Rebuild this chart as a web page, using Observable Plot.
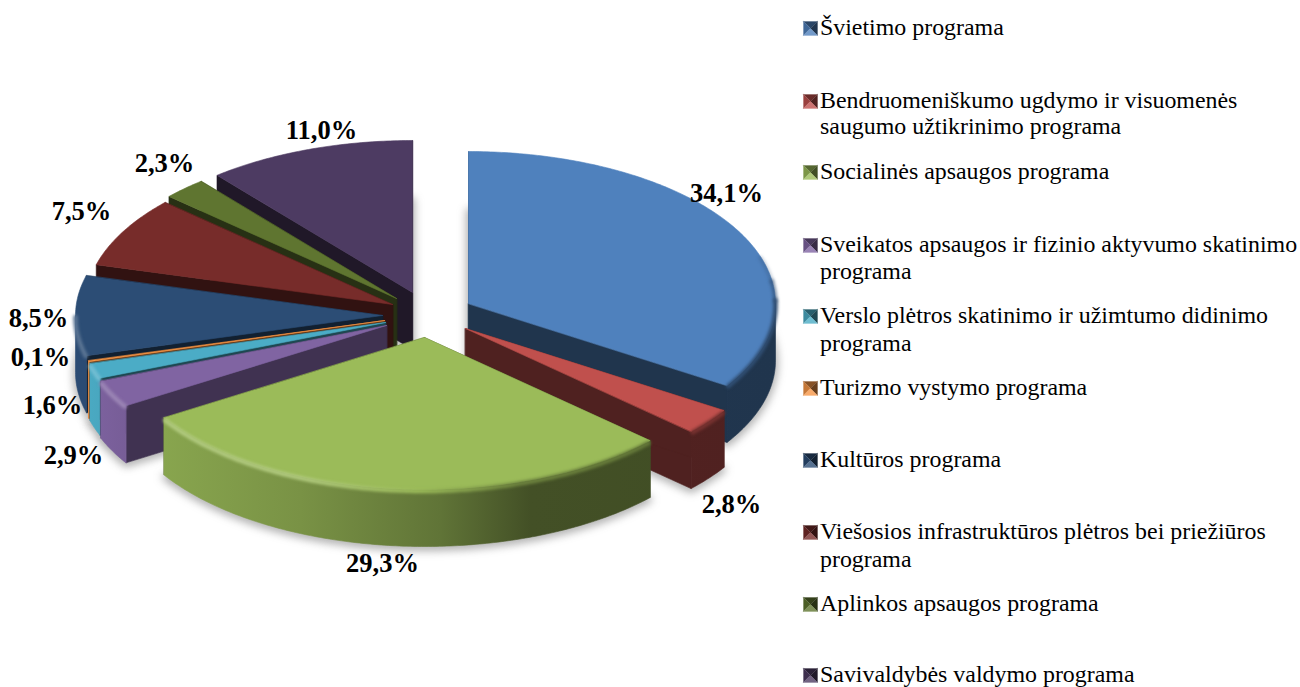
<!DOCTYPE html>
<html><head><meta charset="utf-8">
<style>html,body{margin:0;padding:0;background:#fff}svg{display:block}</style>
<script src="https://cdn.jsdelivr.net/npm/d3@7"></script>
<script src="https://cdn.jsdelivr.net/npm/@observablehq/plot@0.6"></script>
</head><body><div id="chart"></div>
<script>
const categories = [
  "Švietimo programa",
  "Bendruomeniškumo ugdymo ir visuomenės\nsaugumo užtikrinimo programa",
  "Socialinės apsaugos programa",
  "Sveikatos apsaugos ir fizinio aktyvumo skatinimo\nprograma",
  "Verslo plėtros skatinimo ir užimtumo didinimo\nprograma",
  "Turizmo vystymo programa",
  "Kultūros programa",
  "Viešosios infrastruktūros plėtros bei priežiūros\nprograma",
  "Aplinkos apsaugos programa",
  "Savivaldybės valdymo programa"
];
const values = [34.1, 2.8, 29.3, 2.9, 1.6, 0.1, 8.5, 7.5, 2.3, 11.0];
const colors = ["#4f81bd","#c0504d","#9bbb59","#8064a2","#4bacc6","#f79646","#2c4d75","#772c2a","#5f7530","#4d3b62"];
// layout (kept apart from the data): where each exploded slice has its apex, paint order, label anchors, legend rows
const apexX = [468, 465, 424, 386, 385, 384, 382, 392, 396, 412];
const apexY = [303, 328, 337, 325, 322, 320, 315, 304, 298, 292];
const paintOrder = [9, 8, 7, 6, 5, 4, 3, 0, 1, 2];
const labelX = [726, 731, 382, 73, 52, 40, 38, 81, 164, 321];
const labelY = [193, 504, 563, 455, 405, 357, 318, 211, 163, 130];
const legendY = [[27],[100,126],[171],[244,271],[315,343],[387],[459],[531,559],[603],[674]];
const RX = 307, RY = 152, DEPTH = 57;

const total = d3.sum(values);
const ends = d3.cumsum(values).map(v => v / total * 2 * Math.PI);
const slices = values.map((v, i) => ({
  i, value: v, a0: i ? ends[i - 1] : 0, a1: ends[i], color: colors[i],
  ax: apexX[i], ay: apexY[i]
}));
const pt = (s, a, dy = 0, k = 1) => ({x: s.ax + k * RX * Math.sin(a), y: s.ay - k * RY * Math.cos(a) + dy});
const arc = (s, a0, a1, dy = 0, k = 1) => {
  const n = Math.max(2, Math.ceil(Math.abs(a1 - a0) / 0.012));
  return d3.range(n + 1).map(j => pt(s, a0 + (a1 - a0) * j / n, dy, k));
};
const apex = (s, dy = 0) => ({x: s.ax, y: s.ay + dy});

const scale = c => k => { const r = d3.rgb(c); return d3.rgb(r.r * k, r.g * k, r.b * k).formatHex(); };

// gradient definitions, added as a small custom mark
function defs() {
  const NS = "http://www.w3.org/2000/svg";
  const d = document.createElementNS(NS, "defs");
  const add = (id, stops) => {
    const g = document.createElementNS(NS, "linearGradient");
    g.setAttribute("id", id); g.setAttribute("gradientUnits", "userSpaceOnUse");
    g.setAttribute("x1", 0); g.setAttribute("x2", 1300); g.setAttribute("y1", 0); g.setAttribute("y2", 0);
    for (const [x, c] of stops) {
      const st = document.createElementNS(NS, "stop");
      st.setAttribute("offset", x / 1300); st.setAttribute("stop-color", c); g.appendChild(st);
    }
    d.appendChild(g);
  };
  colors.forEach((c, i) => {
    const f = scale(c);
    add("wall" + i, [[90, f(.98)], [163, f(.88)], [300, f(.78)], [440, f(.62)], [530, f(.43)], [775, f(.41)]]);
    const hi = d3.interpolateRgb(c, "#fff")(.22);
    add("rim" + i, [[90, hi], [300, hi], [420, c], [520, f(.7)], [775, f(.6)]]);
  });
  return d;
}

const poly = (pts, fill, o = {}) => Plot.line(pts, {x: "x", y: "y", curve: "linear-closed", fill, stroke: fill, strokeWidth: .6, ...o});

const marks = [defs];

// soft shadow below the base of each slice
slices.forEach(s => {
  const base = [apex(s, DEPTH + 2), ...arc(s, s.a0, s.a1, DEPTH + 2)];
  marks.push(poly(base, "#555", {fillOpacity: .38, strokeOpacity: .38, strokeWidth: 5, imageFilter: "blur(4px)"}));
});

paintOrder.forEach(i => {
  const s = slices[i];
  const cut = scale(s.color)(i === 3 ? .5 : .41);
  // cut faces
  for (const a of [s.a1, s.a0]) {
    const e = pt(s, a);
    marks.push(poly([apex(s), e, {x: e.x, y: e.y + DEPTH}, apex(s, DEPTH)], cut));
  }
  // outer wall, only where it faces the viewer
  const lo = Math.max(s.a0, Math.PI / 2), hi = Math.min(s.a1, Math.PI * 1.5);
  if (hi > lo) {
    marks.push(poly([...arc(s, lo, hi), ...arc(s, hi, lo, DEPTH)], `url(#wall${i})`));
  }
  // top face
  marks.push(poly([apex(s), ...arc(s, s.a0, s.a1)], s.color, {imageFilter: "blur(0.4px)"}));
  // bevel along the front rim, fading in on the right-hand side
  for (const [from, to, opacity] of [[.40, .45, .25], [.45, .49, .6], [.49, 1.5, 1]]) {
    const rlo = Math.max(s.a0 + .008, Math.PI * from), rhi = Math.min(s.a1 - .008, Math.PI * to);
    if (rhi > rlo + .001) {
      marks.push(Plot.line(arc(s, rlo, rhi, 1.5), {
        x: "x", y: "y", stroke: `url(#rim${i})`, strokeOpacity: opacity, strokeWidth: 4.5, imageFilter: "blur(1.6px)"
      }));
    }
  }
});

// value labels
marks.push(Plot.text(slices, {
  x: d => labelX[d.i], y: d => labelY[d.i],
  text: d => d.value.toFixed(1).replace(".", ",") + "%",
  fontFamily: "Liberation Serif", fontWeight: "bold", fontSize: 26.5, fill: "#000",
  textAnchor: "middle", lineAnchor: "middle"
}));

// legend
const legendRows = categories.flatMap((c, i) => c.split("\n").map((t, j) => ({t, y: legendY[i][j]})));
marks.push(Plot.text(legendRows, {
  x: () => 819.5, y: "y", text: "t",
  fontFamily: "Liberation Serif", fontSize: 23.9, fill: "#000", textAnchor: "start", lineAnchor: "middle"
}));
categories.forEach((c, i) => {
  const y = legendY[i][0] + 1, f = scale(colors[i]);
  const L = 803, R = 817, T = y - 7, B = y + 7, cx = (L + R) / 2, cy = y;
  const tri = (a, b, col) => poly([a, b, {x: cx, y: cy}], col, {strokeWidth: .3});
  marks.push(tri({x: L, y: T}, {x: R, y: T}, f(.55)));
  marks.push(tri({x: R, y: T}, {x: R, y: B}, f(.42)));
  marks.push(tri({x: L, y: T}, {x: L, y: B}, f(.8)));
  marks.push(tri({x: L, y: B}, {x: R, y: B}, d3.interpolateRgb(colors[i], "#fff")(.2)));
});

const chart = Plot.plot({
  width: 1300, height: 687, margin: 0,
  x: {domain: [0, 1300], range: [0, 1300], axis: null},
  y: {domain: [0, 687], range: [0, 687], axis: null},
  style: {background: "#fff"},
  marks
});
document.getElementById("chart").appendChild(chart);
</script></body></html>
